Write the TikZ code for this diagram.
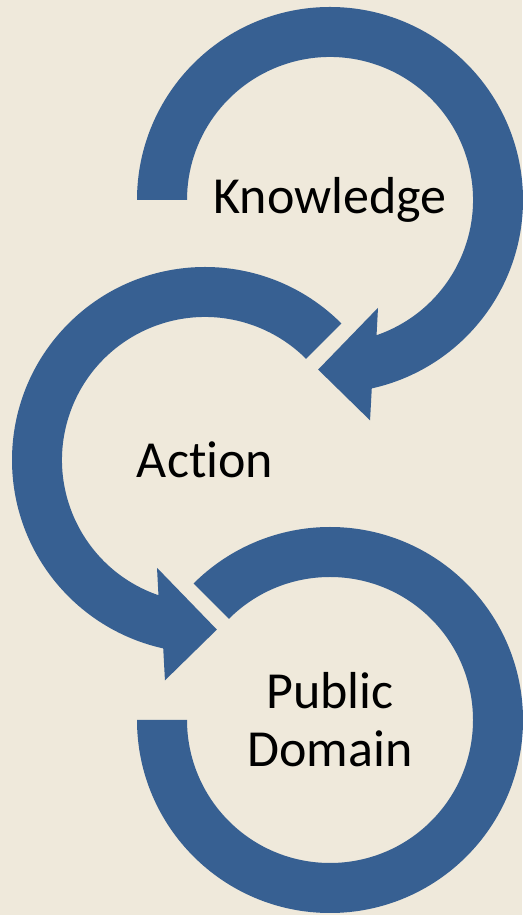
\documentclass[tikz,border=0pt]{standalone}
\usepackage{fontspec}
\setmainfont{Carlito}[Ligatures=NoCommon]
\definecolor{ringblue}{RGB}{55,96,146}
\definecolor{paper}{RGB}{239,233,219}
\tikzset{ %x=1pt, y=1pt,
  {ring/.style} ={fill=ringblue,draw=none},
  {ringtext/.style} ={font=\fontsize{52}{58}\selectfont,
                      align=center,text=black,inner sep=0},
  {paper bg/.style} ={fill=paper,draw=none},
 }

\begin{document}
\begin{tikzpicture}[x=1pt,y=1pt]
\useasboundingbox (0,0) rectangle (522,915);
\path[paper bg] (0,0) rectangle (522,915);
% centres of the three rings
\coordinate (cK) at (330,715);
\coordinate (cA) at (205,455);
\coordinate (cP) at (330,195);
% Knowledge: clockwise, arrow head pointing left into Action
\begin{scope}[shift={(cK)}]
\fill[ring] (180:193) arc[start angle=180, end angle=-77.5, radius=193]
  -- (-79.7:224) -- (-94:170) -- (-66:118) -- (-71:143)
  arc[start angle=-71, end angle=180, radius=143] -- cycle;
\end{scope}
% Action: anticlockwise, arrow head pointing right into Public Domain
\begin{scope}[shift={(cA)}]
\fill[ring] (45:193) arc[start angle=45, end angle=257.5, radius=193]
  -- (259.7:224) -- (274:170) -- (246:118) -- (251:143)
  arc[start angle=251, end angle=45, radius=143] -- cycle;
\end{scope}
% Public Domain: open ring, no head
\begin{scope}[shift={(cP)}]
\fill[ring] (180:193) arc[start angle=180, end angle=495, radius=193]
  -- (135:143) arc[start angle=135, end angle=-180, radius=143] -- cycle;
\end{scope}
\node[ringtext] (know) at (cK) {Knowledge};
\node[ringtext] (act) at (cA) {Action};
\node[ringtext] (pub) at (cP) {Public\\Domain};
\end{tikzpicture}
\end{document}
